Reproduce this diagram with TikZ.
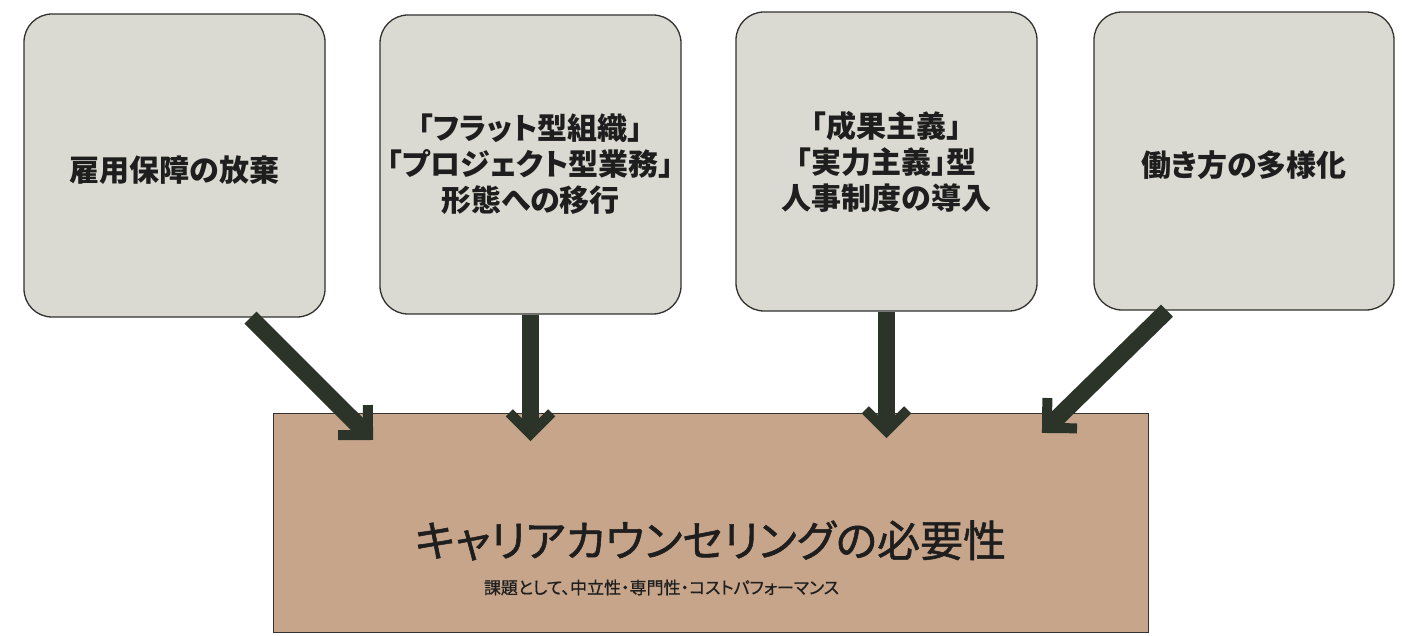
\documentclass[tikz,border=0pt]{standalone}
\usepackage{fontspec}
\newfontfamily\jp{Noto Sans CJK JP}[RawFeature=+palt]
\newfontfamily\jpm{Noto Sans CJK JP}[RawFeature=+palt, FakeBold=1.2]
\newfontfamily\jps{Noto Sans CJK JP}[RawFeature=+palt, FakeBold=0.6]
\usetikzlibrary{calc}
\definecolor{boxfill}{RGB}{218,218,210}
\definecolor{boxline}{RGB}{50,50,48}
\definecolor{tan}{RGB}{199,165,139}
\definecolor{arrowc}{RGB}{44,52,41}
\definecolor{txt}{RGB}{30,30,30}
\begin{document}
\begin{tikzpicture}[x=1pt,y=-1pt,
  topbox/.style={draw=boxline, fill=boxfill, rounded corners=28pt, line width=1.3pt,
    inner sep=0pt, align=center, text=txt, font=\jp\bfseries\fontsize{30}{36}\selectfont},
  bigbox/.style={draw=boxline, fill=tan, line width=1pt, minimum width=875pt, minimum height=219pt, inner sep=0pt},
  shaft/.style={draw=arrowc, line width=17pt, shorten >=6pt},
  head/.style={draw=arrowc, line width=10pt, miter limit=10, line join=miter}
]
\useasboundingbox (0,0) rectangle (1405,636);
\fill[white] (0,0) rectangle (1405,636);

\node[topbox, minimum width=301pt, minimum height=303pt] (b1) at (174.5,165.5) {\raisebox{-5pt}[\height][\depth]{雇用保障の放棄}};
\node[topbox, minimum width=301pt, minimum height=299pt] (b2) at (530.5,164.5) {「フラット型組織」\\「プロジェクト型業務」\\形態への移行};
\node[topbox, minimum width=301pt, minimum height=299pt] (b3) at (886.5,161.5) {「成果主義」\\「実力主義」型\\人事制度の導入};
\node[topbox, minimum width=300pt, minimum height=298pt] (b4) at (1244,161) {\raisebox{-4pt}[\height][\depth]{働き方の多様化}};

\node[bigbox] (b5) at (710.5,522.5) {};
\node[text=txt, font=\jpm\fontsize{43}{46}\selectfont] (title) at ($(b5.center)+(0,18)$) {キャリアカウンセリングの必要性};
\node[text=txt, font=\jps\fontsize{17}{20}\selectfont] (sub) at ($(b5.center)+(-49,65)$) {課題として、中立性・専門性・コストパフォーマンス};

\coordinate (s1) at ($(b1.south)+(76,0)$);
\coordinate (t1) at (368,435);
\coordinate (s2) at (b2.south);
\coordinate (t2) at (530.5,434);
\coordinate (s3) at (b3.south);
\coordinate (t3) at (886.5,431);
\coordinate (s4) at ($(b4.south)+(-77,0)$);
\coordinate (t4) at (1047,428);

\foreach \i in {1,2,3,4}{
  \draw[shaft] (s\i) -- (t\i);
  \draw[head] ($(t\i)!30pt!45:(s\i)$) -- (t\i) -- ($(t\i)!30pt!-45:(s\i)$);
}
\end{tikzpicture}
\end{document}
